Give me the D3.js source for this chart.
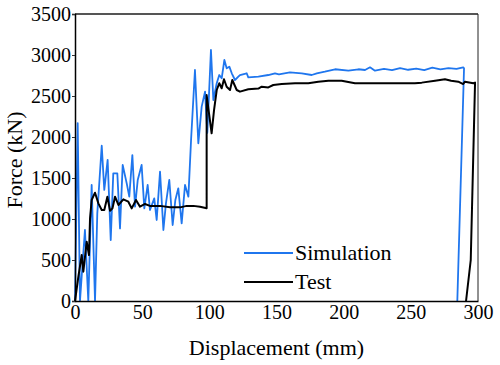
<html>
<head>
<script src="https://cdnjs.cloudflare.com/ajax/libs/d3/7.8.5/d3.min.js"></script>
</head>
<body style="margin:0">
<svg width="500" height="365"></svg>
<script>
// simulation curve (displacement mm, force kN)
const simDisp = [0, 2.0, 3.7, 7.4, 9.9, 12.4, 14.9, 16.6, 19.9, 21.8, 24.3, 26.6, 28.5, 31.5, 33.5, 35.5,
    38.5, 40.4, 42.7, 44.7, 46.7, 49.6, 51.6, 54.1, 55.8, 59.0, 60.8, 63.3, 65.8, 67.7, 70.2, 72.7,
    74.7, 76.9, 79.4, 81.9, 84.4, 86.4, 89.3, 91.8, 94.3, 96.8, 98.5, 101.2, 103.0, 105.5, 107.4,
    109.2, 111.2, 112.9, 114.9, 116.7, 119.1, 121.6, 122.8, 127.8, 129.0, 136.5, 143.9, 148.9,
    151.8, 160.0, 168.8, 176.2, 180.0, 186.0, 193.6, 203.5, 211.0, 215.9, 219.6, 223.3, 230.0,
    236.0, 242.0, 248.0, 254.0, 260.0, 266.0, 272.0, 278.0, 284.0, 289.0, 289.6, 284.6];
const simForce = [0, 2170, 0, 866, 0, 1415, 0, 1069, 1894, 1354, 1720, 744, 1557, 1557, 886, 1659,
    1435, 1272, 1780, 1150, 1476, 1659, 1130, 1415, 1110, 1252, 988, 1577, 866, 1191, 1476, 927,
    1232, 1374, 947, 1415, 1272, 1963, 2817, 1923, 2370, 2553, 2050, 3061, 2451, 2655, 2756,
    2716, 2939, 2838, 2858, 2777, 2695, 2736, 2756, 2777, 2728, 2736, 2756, 2777,
    2765, 2789, 2777, 2756, 2777, 2797, 2826, 2809, 2826, 2817, 2850, 2809, 2830,
    2815, 2840, 2820, 2835, 2815, 2845, 2825, 2840, 2830, 2850, 2838, 0];

// test curve
const testDisp = [0, 2.5, 5.0, 6.2, 8.7, 10.4, 11.2, 12.4, 14.9, 17.4, 19.9, 21.8, 24.1, 26.1, 27.9,
    29.8, 32.3, 36.0, 39.7, 42.2, 45.4, 48.4, 52.1, 55.8, 63.3, 70.7, 78.2, 83.2, 88.1, 93.1, 98.0,
    98.0, 101.7, 103.5, 105.5, 107.4, 109.2, 110.9, 112.9, 115.4, 117.1, 120.4, 122.8, 129.0,
    136.5, 139.0, 143.9, 147.6, 153.9, 163.8, 173.7, 181.1, 188.6, 198.5, 208.4, 223.3, 238.2,
    253.0, 258.1, 268.0, 275.4, 280.0, 285.3, 289.0, 290.3, 296.5, 297.8, 294.6, 291.1];
const testForce = [0, 296, 561, 357, 723, 561, 1008, 1232, 1321, 1191, 1110, 1110, 1272, 1101, 1130,
    1272, 1171, 1240, 1211, 1130, 1232, 1150, 1183, 1160, 1160, 1142, 1142, 1160, 1160, 1150, 1130,
    2512, 2045, 2329, 2573, 2655, 2594, 2704, 2613, 2573, 2695, 2573, 2553, 2582,
    2590, 2613, 2605, 2634, 2646, 2655, 2655, 2675, 2687, 2687, 2655, 2655, 2655,
    2655, 2663, 2687, 2704, 2687, 2675, 2646, 2675, 2655, 2663, 500, 0];

const xTicks = [0, 50, 100, 150, 200, 250, 300];
const yTicks = [0, 500, 1000, 1500, 2000, 2500, 3000, 3500];

const svg = d3.select("svg");
const pLeft = 75, pTop = 14, pRight = 478, pBottom = 301;
const serif = `"Liberation Serif"`;

const x = d3.scaleLinear().domain([0, 300]).range([pLeft, pRight]);
const y = d3.scaleLinear().domain([0, 3500]).range([pBottom, pTop]);

const line = d3.line()
    .x(d => x(d[0]))
    .y(d => y(d[1]));

const simPts = simDisp.map((d, i) => [d, simForce[i]]);
const testPts = testDisp.map((d, i) => [d, testForce[i]]);

svg.append("path")
    .datum(simPts)
    .attr("d", line)
    .attr("fill", "none")
    .attr("stroke", "#1f76ee")
    .attr("stroke-width", 1.8)
    .attr("stroke-linejoin", "round");

svg.append("path")
    .datum(testPts)
    .attr("d", line)
    .attr("fill", "none")
    .attr("stroke", "#000")
    .attr("stroke-width", 2)
    .attr("stroke-linejoin", "round");

// frame
svg.append("line").attr("x1", pLeft).attr("x2", pRight).attr("y1", pTop).attr("y2", pTop)
    .attr("stroke", "#555").attr("stroke-width", 2);
svg.append("line").attr("x1", pRight).attr("x2", pRight).attr("y1", pTop).attr("y2", pBottom)
    .attr("stroke", "#222").attr("stroke-width", 1);

const xAxis = svg.append("g")
    .attr("transform", `translate(0, ${pBottom})`)
    .call(d3.axisBottom(x).tickValues(xTicks).tickFormat(d3.format("d")).tickSize(0).tickPadding(4));
const yAxis = svg.append("g")
    .attr("transform", `translate(${pLeft}, 0)`)
    .call(d3.axisLeft(y).tickValues(yTicks).tickFormat(d3.format("d")).tickSize(3).tickPadding(1));

[xAxis, yAxis].forEach(a => {
    a.attr("font-family", null).attr("font-size", null);
    a.select(".domain").attr("stroke", "#000").attr("stroke-width", 1.5);
    a.selectAll(".tick line").attr("stroke", "#333");
    a.selectAll("text").attr("fill", "#000").attr("font-size", 20);
});

svg.append("text")
    .attr("x", (pLeft + pRight) / 2)
    .attr("y", 355)
    .attr("text-anchor", "middle")
    .attr("font-size", 22)
    .text("Displacement (mm)");

svg.append("text")
    .attr("transform", "translate(22, 160) rotate(-90)")
    .attr("text-anchor", "middle")
    .attr("font-size", 22)
    .text("Force (kN)");

// legend
const legend = [
    { name: "Simulation", color: "#1f76ee", w: 1.8 },
    { name: "Test", color: "#000", w: 2 }
];
legend.forEach((d, i) => {
    const ly = 253 + i * 29;
    svg.append("line").attr("x1", 244).attr("x2", 293).attr("y1", ly).attr("y2", ly)
        .attr("stroke", d.color).attr("stroke-width", d.w);
    svg.append("text").attr("x", 295).attr("y", ly).attr("dy", "0.33em")
        .attr("font-size", 22).text(d.name);
});

// set font on every text node and force a layout pass
svg.selectAll("text").style("font-family", serif).each(function () { this.getComputedTextLength(); });
</script>
</body>
</html>
